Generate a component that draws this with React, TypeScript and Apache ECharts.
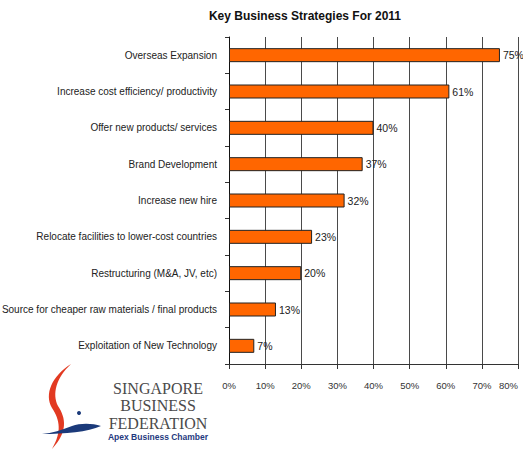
import React, { useEffect, useRef } from "react";
import * as echarts from "echarts";

const title = "Key Business Strategies For 2011";
const categories = [
  "Overseas Expansion",
  "Increase cost efficiency/ productivity",
  "Offer new products/ services",
  "Brand Development",
  "Increase new hire",
  "Relocate facilities to lower-cost countries",
  "Restructuring (M&A, JV, etc)",
  "Source for cheaper raw materials / final products",
  "Exploitation of New Technology",
];
const values = [75, 61, 40, 37, 32, 23, 20, 13, 7];
const xMin = 0;
const xMax = 80;
const xStep = 10;
const logoLines = ["SINGAPORE", "BUSINESS", "FEDERATION"];
const logoTagline = "Apex Business Chamber";

const SANS = "'Liberation Sans', Arial, sans-serif";

const redPath =
  "M71,364 C52,376 44,394 52,408 C60,420 62,432 52,449 C68,432 66,418 58,406 C52,394 56,378 71,364 Z";
const bluePath =
  "M42,434 C65,434 88,432 101,426 C92,423 80,423 72,426 C62,430 52,433 42,434 Z";

let registered = false;
function registerShapes() {
  if (registered) return;
  registered = true;
  echarts.graphic.registerShape("sbfRed", echarts.graphic.extendPath(redPath, {}));
  echarts.graphic.registerShape("sbfBlue", echarts.graphic.extendPath(bluePath, {}));
}

export default function App() {
  const ref = useRef<HTMLDivElement>(null);
  useEffect(() => {
    if (!ref.current) return;
    registerShapes();
    const chart = echarts.init(ref.current, null, { renderer: "svg" });
    chart.setOption({
      animation: false,
      backgroundColor: "#ffffff",
      grid: {
        left: 229,
        right: 5,
        top: 37,
        bottom: 87,
        containLabel: false,
        outerBoundsMode: "none",
      },
      xAxis: {
        type: "value",
        min: xMin,
        max: xMax,
        interval: xStep,
        axisLine: { show: true, lineStyle: { color: "#333", width: 1 } },
        axisTick: { show: true, length: 5, lineStyle: { color: "#333" } },
        splitLine: { show: true, lineStyle: { color: "#4a4a4a", width: 1 } },
        axisLabel: {
          formatter: "{value}%",
          fontFamily: SANS,
          fontSize: 9.5,
          color: "#333",
          margin: 16,
          alignMaxLabel: "right",
        },
      },
      yAxis: {
        type: "category",
        data: categories,
        inverse: true,
        axisLine: { show: true, lineStyle: { color: "#111", width: 1 } },
        axisTick: { show: true, length: 4, lineStyle: { color: "#333" } },
        axisLabel: {
          fontFamily: SANS,
          fontSize: 10,
          color: "#222",
          margin: 12,
        },
      },
      series: [
        {
          type: "bar",
          data: values,
          barWidth: 14,
          itemStyle: { color: "#FF6600", borderColor: "#222", borderWidth: 1 },
          label: {
            show: true,
            position: "right",
            distance: 3,
            formatter: "{c}%",
            fontFamily: SANS,
            fontSize: 10.5,
            color: "#222",
          },
        },
      ],
      graphic: [
        {
          type: "text",
          x: 305,
          y: 16,
          style: {
            text: title,
            fontFamily: SANS,
            fontSize: 12,
            fontWeight: "bold",
            fill: "#111",
            textAlign: "center",
            textVerticalAlign: "middle",
          },
        },
        { type: "sbfRed", style: { fill: "#e23a22" } },
        { type: "sbfBlue", style: { fill: "#1b3a7a" } },
        { type: "circle", shape: { cx: 79, cy: 413, r: 2 }, style: { fill: "#1b3a7a" } },
        ...logoLines.map((t, i) => ({
          type: "text",
          x: 158,
          y: 388 + i * 17.5,
          style: {
            text: t,
            fontFamily: "'Liberation Serif', 'Times New Roman', serif",
            fontSize: 16,
            fill: "#4a4a4a",
            textAlign: "center",
            textVerticalAlign: "middle",
          },
        })),
        {
          type: "text",
          x: 158,
          y: 437,
          style: {
            text: logoTagline,
            fontFamily: SANS,
            fontSize: 8.5,
            fontWeight: "bold",
            fill: "#1f3a80",
            textAlign: "center",
            textVerticalAlign: "middle",
          },
        },
      ],
    });
    return () => chart.dispose();
  }, []);
  return (
    <div
      ref={ref}
      style={{ position: "fixed", left: 0, top: 0, width: 523, height: 451 }}
    />
  );
}
